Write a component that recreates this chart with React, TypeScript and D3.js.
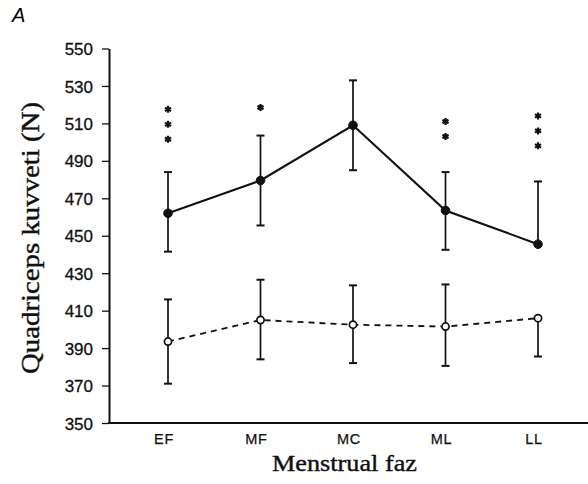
import React, { useRef, useEffect } from "react";
import * as d3 from "d3";

const categories = ["EF", "MF", "MC", "ML", "LL"];
const yTicks = [350, 370, 390, 410, 430, 450, 470, 490, 510, 530, 550];

// eumenoreik group (solid line, filled dots)
const solidMean = [462, 479.5, 509, 463.5, 445.5];
const solidUpper = [484, 503.5, 533, 484, 479];
const solidLower = [441.5, 455.5, 485, 442.5, 445.5];

// other group (dashed line, open dots)
const openMean = [393.5, 405, 402.5, 401.5, 406];
const openUpper = [416, 426.5, 423.5, 424, 406];
const openLower = [371, 384, 382, 380.5, 385.5];

// significance stars above each phase
const starCounts = [3, 1, 0, 2, 3];
const starBase = [501.5, 518.5, 0, 503, 498];
const starStep = 8;

const W = 588;
const H = 484;

const App = () => {
  const ref = useRef<SVGSVGElement>(null);

  useEffect(() => {
    const svg = d3.select(ref.current);
    svg.selectAll("*").remove();

    const x = d3.scalePoint<string>().domain(categories).range([168, 538]);
    const y = d3.scaleLinear().domain([350, 550]).range([423, 48.5]);
    const axisX = 109;

    // title letter
    svg
      .append("text")
      .attr("x", 12)
      .attr("y", 22)
      .text("A")
      .style("font-family", "Liberation Sans, Arial, sans-serif")
      .style("font-style", "italic")
      .style("font-size", "20px");

    // y axis
    const gy = svg
      .append("g")
      .attr("transform", `translate(${axisX},0)`)
      .call(
        d3
          .axisLeft(y)
          .tickValues(yTicks)
          .tickSize(7)
          .tickSizeOuter(0)
          .tickPadding(9)
          .tickFormat(d3.format("d"))
      );
    gy.select(".domain").attr("stroke", "#111").attr("stroke-width", 2);
    gy.selectAll(".tick line").attr("stroke", "#111").attr("stroke-width", 1.3);
    gy.selectAll(".tick text")
      .attr("fill", "#111")
      .attr("stroke", "#111")
      .attr("stroke-width", 0.3)
      .attr("dy", "0.36em")
      .style("font-family", "Liberation Sans, Arial, sans-serif")
      .style("font-size", "17px");

    // x axis baseline
    svg
      .append("line")
      .attr("x1", axisX - 1)
      .attr("x2", W)
      .attr("y1", y(350))
      .attr("y2", y(350))
      .attr("stroke", "#111")
      .attr("stroke-width", 2);

    svg
      .append("g")
      .selectAll("text")
      .data(categories)
      .enter()
      .append("text")
      .attr("x", (d) => (x(d) as number) - 4)
      .attr("y", 444)
      .attr("text-anchor", "middle")
      .text((d) => d)
      .style("font-family", "Liberation Sans, Arial, sans-serif")
      .style("font-size", "14.5px")
      .style("letter-spacing", "0.8px")
      .attr("fill", "#111")
      .attr("stroke", "#111")
      .attr("stroke-width", 0.25);

    // axis titles
    svg
      .append("text")
      .attr("x", 344.5)
      .attr("y", 471)
      .attr("text-anchor", "middle")
      .attr("textLength", 145)
      .attr("lengthAdjust", "spacingAndGlyphs")
      .text("Menstrual faz")
      .style("font-family", "Liberation Serif, Times New Roman, serif")
      .style("font-size", "24px")
      .attr("fill", "#111")
      .attr("stroke", "#111")
      .attr("stroke-width", 0.4);

    svg
      .append("text")
      .attr("transform", "translate(39,238) rotate(-90)")
      .attr("text-anchor", "middle")
      .attr("textLength", 272)
      .attr("lengthAdjust", "spacingAndGlyphs")
      .text("Quadriceps kuvveti (N)")
      .style("font-family", "Liberation Serif, Times New Roman, serif")
      .style("font-size", "26px")
      .attr("fill", "#111")
      .attr("stroke", "#111")
      .attr("stroke-width", 0.4);

    const drawSeries = (
      mean: number[],
      upper: number[],
      lower: number[],
      dashed: boolean,
      filled: boolean
    ) => {
      const g = svg.append("g");
      const pts = categories.map((c, i) => ({ c, m: mean[i], u: upper[i], l: lower[i] }));

      // error bars
      g.selectAll("line.bar")
        .data(pts)
        .enter()
        .append("line")
        .attr("x1", (d) => x(d.c) as number)
        .attr("x2", (d) => x(d.c) as number)
        .attr("y1", (d) => y(d.u))
        .attr("y2", (d) => y(d.l))
        .attr("stroke", "#111")
        .attr("stroke-width", 1.7);

      const caps = pts.flatMap((d) => [
        ...(d.u !== d.m ? [{ c: d.c, v: d.u }] : []),
        ...(d.l !== d.m ? [{ c: d.c, v: d.l }] : []),
      ]);
      g.selectAll("line.cap")
        .data(caps)
        .enter()
        .append("line")
        .attr("x1", (d) => (x(d.c) as number) - 4)
        .attr("x2", (d) => (x(d.c) as number) + 4)
        .attr("y1", (d) => y(d.v))
        .attr("y2", (d) => y(d.v))
        .attr("stroke", "#111")
        .attr("stroke-width", 2);

      const line = d3
        .line<{ c: string; m: number }>()
        .x((d) => x(d.c) as number)
        .y((d) => y(d.m));

      g.append("path")
        .attr("d", line(pts))
        .attr("fill", "none")
        .attr("stroke", "#111")
        .attr("stroke-width", dashed ? 1.8 : 2.1)
        .attr("stroke-dasharray", dashed ? "6,5" : null);

      g.selectAll("circle")
        .data(pts)
        .enter()
        .append("circle")
        .attr("cx", (d) => x(d.c) as number)
        .attr("cy", (d) => y(d.m))
        .attr("r", filled ? 4.3 : 3.6)
        .attr("fill", filled ? "#111" : "#fff")
        .attr("stroke", "#111")
        .attr("stroke-width", filled ? 1 : 1.7);
    };

    drawSeries(solidMean, solidUpper, solidLower, false, true);
    drawSeries(openMean, openUpper, openLower, true, false);

    // significance stars
    const stars = categories.flatMap((c, i) =>
      d3.range(starCounts[i]).map((k) => ({ c, v: starBase[i] + k * starStep }))
    );
    const star = d3.symbol().type(d3.symbolAsterisk).size(34);
    svg
      .append("g")
      .selectAll("path")
      .data(stars)
      .enter()
      .append("path")
      .attr("d", star)
      .attr("transform", (d) => `translate(${x(d.c)},${y(d.v)})`)
      .attr("fill", "none")
      .attr("stroke", "#111")
      .attr("stroke-width", 2.2);
  }, []);

  return (
    <svg
      ref={ref}
      width={W}
      height={H}
      style={{ position: "absolute", left: 0, top: 0, background: "#fff" }}
    ></svg>
  );
};

export default App;
